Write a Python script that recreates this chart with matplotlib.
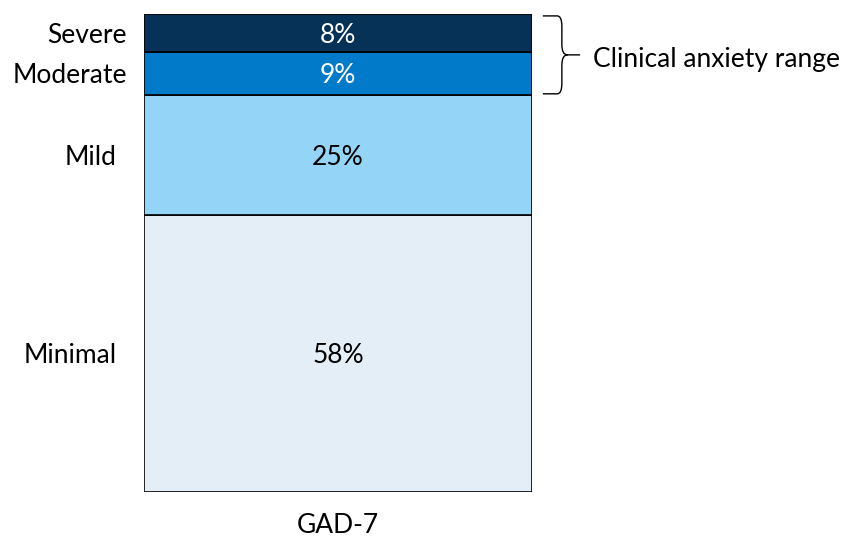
import matplotlib.pyplot as plt
import matplotlib.transforms as mtransforms
from matplotlib.path import Path
from matplotlib.patches import PathPatch

categories = ["Minimal", "Mild", "Moderate", "Severe"]
values = [58, 25, 9, 8]
colors = ["#e3eef6", "#93d4f7", "#007ac9", "#063257"]
text_colors = ["black", "black", "white", "white"]
label_x = [-0.07, -0.07, -0.044, -0.044]
bar_name = "GAD-7"
bracket_text = "Clinical anxiety range"

plt.rcParams["font.family"] = ["Lato", "DejaVu Sans"]
fs = 19
dy = 0.45  # nudge text down a little so it sits centred like the original

fig = plt.figure(figsize=(8.43, 5.38), dpi=100)
ax = fig.add_axes([144 / 843, 46 / 538, 388 / 843, 478 / 538])
trans = mtransforms.blended_transform_factory(ax.transAxes, ax.transData)

bottom = 0
for cat, val, col, tc, lx in zip(categories, values, colors, text_colors, label_x):
    ax.bar(0, val, width=1, bottom=bottom, color=col, edgecolor="black", linewidth=1.2)
    mid = bottom + val / 2 - dy
    ax.text(0, mid, f"{val}%", ha="center", va="center", color=tc, fontsize=fs)
    ax.text(lx, mid, cat, transform=trans, ha="right", va="center", fontsize=fs)
    bottom += val

ax.set_xlim(-0.5, 0.5)
ax.set_ylim(0, 100)
ax.set_xticks([0])
ax.set_xticklabels([bar_name], fontsize=fs)
ax.tick_params(axis="x", length=0, pad=15)
ax.set_yticks([])
for s in ax.spines.values():
    s.set_visible(False)

# bracket over Moderate + Severe
top, bot = 99.6, 83.3
ymid = (top + bot) / 2
x0, x1, x2 = 1.028, 1.077, 1.124
r = 2.2
verts = [(x0, top), (x1 - 0.012, top), (x1, top), (x1, top - r),
         (x1, ymid + r), (x1, ymid), (x1 + 0.014, ymid), (x2, ymid),
         (x1 + 0.014, ymid), (x1, ymid), (x1, ymid - r),
         (x1, bot + r), (x1, bot), (x1 - 0.012, bot), (x0, bot)]
codes = [Path.MOVETO, Path.LINETO, Path.CURVE3, Path.CURVE3,
         Path.LINETO, Path.CURVE3, Path.CURVE3, Path.LINETO,
         Path.MOVETO, Path.CURVE3, Path.CURVE3,
         Path.LINETO, Path.CURVE3, Path.CURVE3, Path.LINETO]
ax.add_patch(PathPatch(Path(verts, codes), transform=trans, fill=False,
                       edgecolor="black", linewidth=1.0, clip_on=False))
ax.text(1.157, ymid - 2 * dy, bracket_text, transform=trans, ha="left", va="center", fontsize=fs)

fig.savefig("out.png", dpi=100)
